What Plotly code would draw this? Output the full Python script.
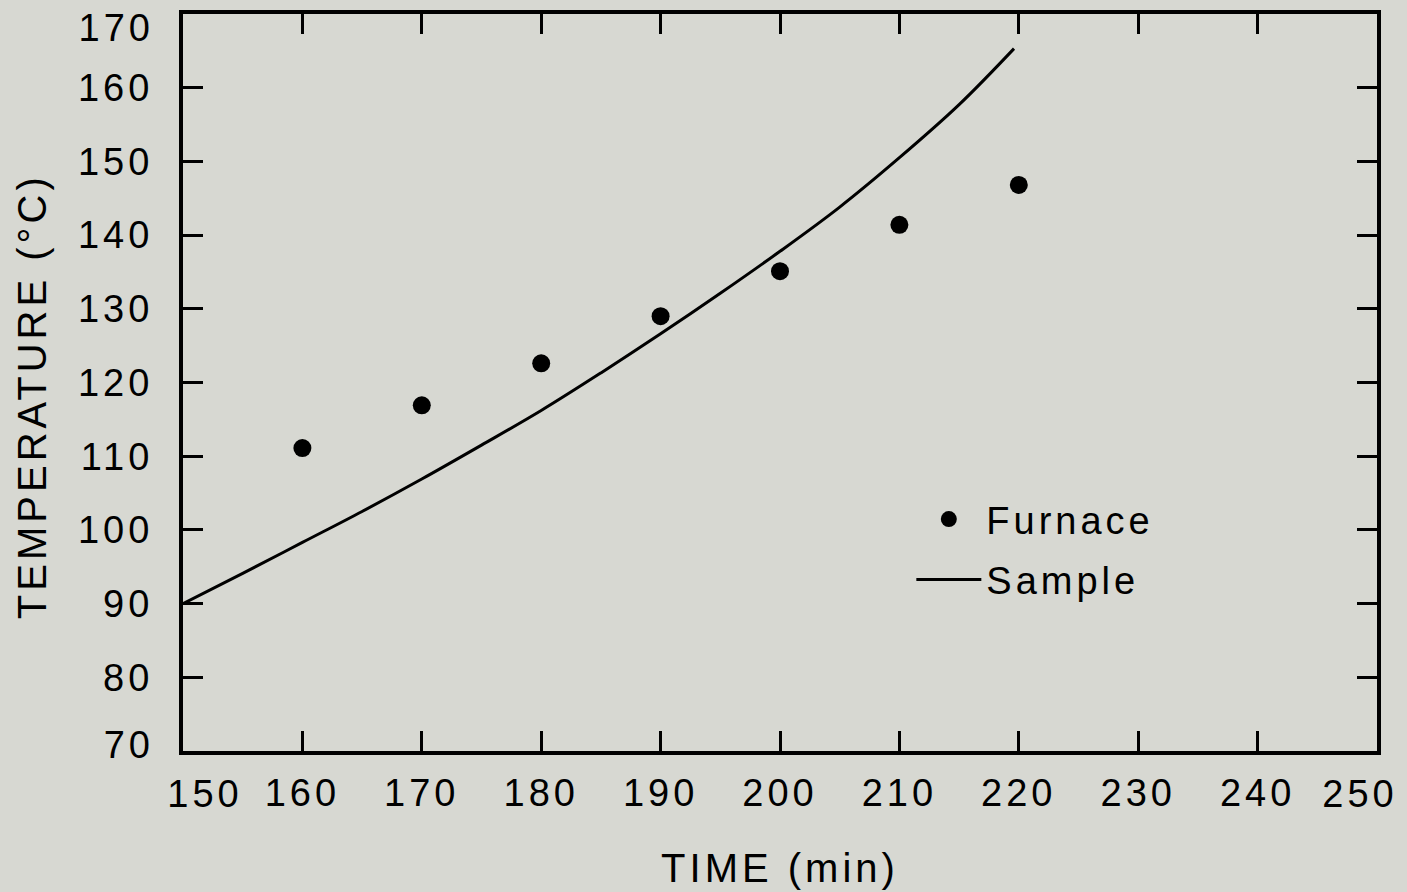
import plotly.graph_objects as go

# Furnace readings (dots)
furnace_time = [160, 170, 180, 190, 200, 210, 220]
furnace_temp = [111.1, 116.9, 122.6, 129.0, 135.1, 141.4, 146.8]

# Sample temperature curve (solid line)
sample_time = [150, 155, 160, 165, 170, 175, 180, 185, 190, 195, 200, 205, 210, 215, 219.6]
sample_temp = [90.0, 94.1, 98.3, 102.5, 106.9, 111.5, 116.2, 121.3, 126.6, 132.1, 137.8, 143.8, 150.5, 157.7, 165.3]

x_ticks = [150, 160, 170, 180, 190, 200, 210, 220, 230, 240, 250]
y_ticks = [70, 80, 90, 100, 110, 120, 130, 140, 150, 160, 170]
X_RANGE = [150, 250]
Y_RANGE = [70, 170]

BG = "#d7d8d2"
FONT = "Liberation Sans, Arial, Helvetica, sans-serif"
TICKFONT = dict(family=FONT, size=38, color="black")

fig = go.Figure()
fig.add_trace(go.Scatter(
    x=furnace_time, y=furnace_temp, mode="markers", name="Furnace",
    marker=dict(color="black", size=18), legendgroup="f",
))
fig.add_trace(go.Scatter(
    x=sample_time, y=sample_temp, mode="lines", name="Sample",
    line=dict(color="black", width=3, shape="spline", smoothing=1.0), legendgroup="s",
))
# empty helper traces so the overlay label axes exist
for xa, ya in [("x", "y2"), ("x", "y3"), ("x2", "y"), ("x3", "y")]:
    fig.add_trace(go.Scatter(x=[], y=[], xaxis=xa, yaxis=ya, showlegend=False, hoverinfo="skip"))

# labels at the range ends are drawn on overlay axes so they can be nudged inward
inner_x = x_ticks[1:-1]
inner_y = y_ticks[1:-1]

main_axis = dict(
    showline=True, linecolor="black", linewidth=4, mirror="ticks",
    ticks="inside", ticklen=20, tickwidth=2.5, tickcolor="black",
    showgrid=False, zeroline=False, ticklabeloverflow="allow",
    tickfont=TICKFONT,
)
label_axis = dict(
    showline=False, ticks="", showgrid=False, zeroline=False,
    ticklabeloverflow="allow", tickfont=TICKFONT,
)

fig.update_layout(
    xaxis=dict(
        range=X_RANGE, tickvals=x_ticks,
        ticktext=[str(v) if v in inner_x else "" for v in x_ticks],
        title=dict(text="TIME (min)", font=dict(family=FONT, size=40, color="black"), standoff=42),
        ticklabelstandoff=5, **main_axis,
    ),
    yaxis=dict(
        range=Y_RANGE, tickvals=y_ticks,
        ticktext=[str(v) if v in inner_y else "" for v in y_ticks],
        ticklabelstandoff=18, **main_axis,
    ),
    xaxis2=dict(overlaying="x", anchor="y", side="bottom", range=X_RANGE,
                tickvals=[x_ticks[0]], ticktext=[str(x_ticks[0])],
                ticklabelshift=22, ticklabelstandoff=17, **label_axis),
    xaxis3=dict(overlaying="x", anchor="y", side="bottom", range=X_RANGE,
                tickvals=[x_ticks[-1]], ticktext=[str(x_ticks[-1])],
                ticklabelshift=-17, ticklabelstandoff=17, **label_axis),
    yaxis2=dict(overlaying="y", anchor="x", side="left", range=Y_RANGE,
                tickvals=[y_ticks[-1]], ticktext=[str(y_ticks[-1])],
                ticklabelshift=14, ticklabelstandoff=28, **label_axis),
    yaxis3=dict(overlaying="y", anchor="x", side="left", range=Y_RANGE,
                tickvals=[y_ticks[0]], ticktext=[str(y_ticks[0])],
                ticklabelshift=-6, ticklabelstandoff=28, **label_axis),
)

fig.add_annotation(
    text="TEMPERATURE (°C)", textangle=-90,
    xref="paper", yref="paper", x=-0.127, y=0.482,
    xanchor="center", yanchor="middle", showarrow=False,
    font=dict(family=FONT, size=40, color="black"),
)

fig.update_layout(
    width=1407, height=892,
    margin=dict(l=183, r=30, t=14, b=141, autoexpand=False),
    paper_bgcolor=BG, plot_bgcolor=BG,
    font=dict(family=FONT, color="black"),
    showlegend=True,
    legend=dict(
        x=0.61, y=0.357, xanchor="left", yanchor="top",
        bgcolor="rgba(0,0,0,0)", borderwidth=0,
        font=dict(family=FONT, size=38, color="black"),
        itemwidth=65, tracegroupgap=8, traceorder="grouped",
    ),
)

post = (
    "document.body.style.margin='0';"
    "document.body.style.overflow='hidden';"
    "document.body.style.background='" + BG + "';"
    "var s=document.createElement('style');"
    "s.innerHTML='.main-svg text{letter-spacing:4px}"
    " .legend .scrollbox{clip-path:none !important}';"
    "document.head.appendChild(s);"
)

fig.write_html("out.html", post_script=post, config={"displayModeBar": False})
